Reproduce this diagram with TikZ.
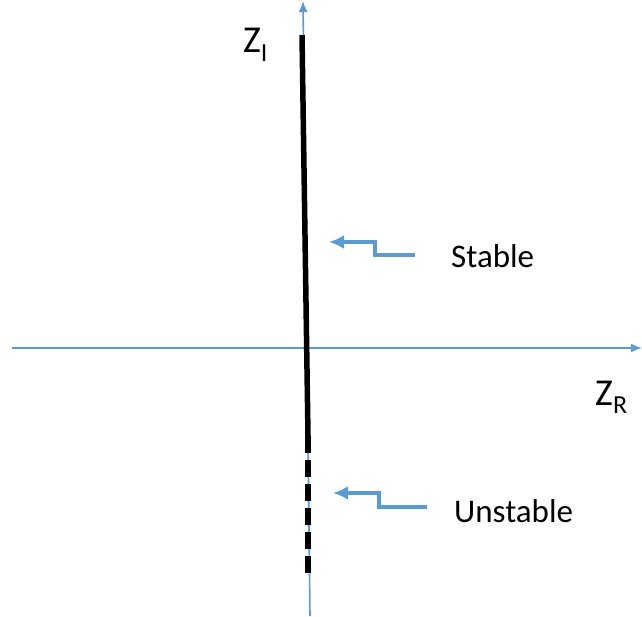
\documentclass[tikz,border=0pt]{standalone}
\usepackage{fontspec}
\setmainfont{Carlito}
\usetikzlibrary{arrows.meta}
\definecolor{axblue}{RGB}{91,155,213}
\begin{document}
\begin{tikzpicture}[x=1pt,y=-1pt,
  axis/.style={draw=axblue,line width=1.6pt,-{Latex[length=11pt,width=9pt]}},
  pointer/.style={draw=axblue,line width=4pt,-{Latex[length=15pt,width=14pt]}},
  lbl/.style={font=\fontsize{33}{33}\selectfont,inner sep=0pt},
  axlbl/.style={font=\fontsize{38}{38}\selectfont,inner sep=0pt}]
\useasboundingbox (0,0) rectangle (642,617);
% axes
\coordinate (hl) at (12,348);
\coordinate (hr) at (642,348);
\coordinate (vb) at (310,616);
\coordinate (vt) at (303,1);
\draw[axis] (hl) -- (hr);
\draw[axis] (vb) -- (vt);
% locus
\coordinate (lt) at (302,35);
\coordinate (lm) at (308,436);
\coordinate (lb) at (308,578);
\draw[line width=5.5pt] (lt) -- (lm);
\draw[line width=6pt,dash pattern=on 17pt off 7pt] (lm) -- (lb);
% labels
\node[axlbl,anchor=base west] (zi) at (243,53) {Z\textsubscript{\fontsize{26}{26}\selectfont I}};
\node[axlbl,anchor=base west] (zr) at (595,405) {Z\textsubscript{\fontsize{26}{26}\selectfont R}};
\node[lbl,anchor=west] (st) at (451,256) {Stable};
\node[lbl,anchor=west] (un) at (454,511) {Unstable};
% pointers
\coordinate (s1) at (415,255);
\coordinate (s2) at (375,255);
\coordinate (s3) at (375,242);
\coordinate (s4) at (329,242);
\draw[pointer] (s1) -- (s2) -- (s3) -- (s4);
\coordinate (u1) at (427,507);
\coordinate (u2) at (379,507);
\coordinate (u3) at (379,493);
\coordinate (u4) at (333,493);
\draw[pointer] (u1) -- (u2) -- (u3) -- (u4);
\end{tikzpicture}
\end{document}
